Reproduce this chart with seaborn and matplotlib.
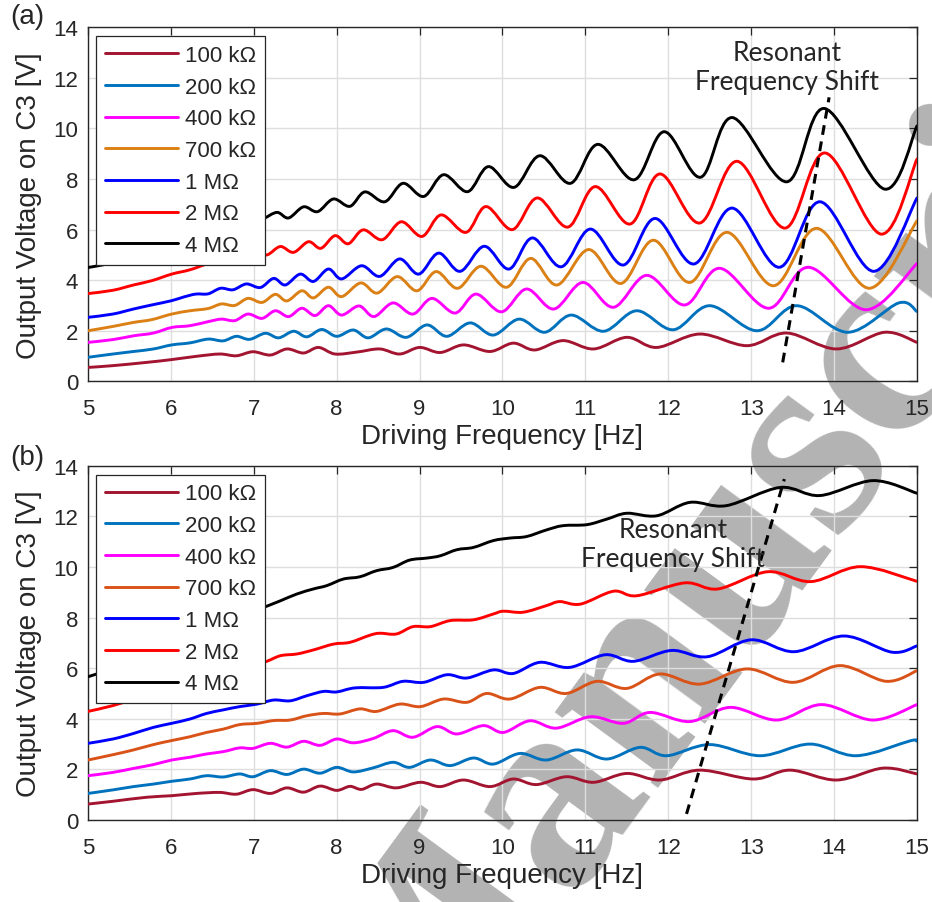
import numpy as np
import matplotlib
matplotlib.use("Agg")
import matplotlib.pyplot as plt
import seaborn as sns
from matplotlib.path import Path
from matplotlib.patches import PathPatch
from matplotlib.lines import Line2D

sns.set_theme(style="white")
plt.rcParams["font.family"] = ["Liberation Sans", "DejaVu Sans"]

LOAD_LABELS = ["100 kΩ", "200 kΩ", "400 kΩ", "700 kΩ", "1 MΩ", "2 MΩ", "4 MΩ"]
COLORS_A = ["#A2142F", "#0072BD", "#FF00FF", "#DB8014", "#0000FF", "#FF0000", "#000000"]
COLORS_B = ["#A2142F", "#0072BD", "#FF00FF", "#D95319", "#0000FF", "#FF0000", "#000000"]
X_TICKS = list(range(5, 16))
Y_TICKS = list(range(0, 15, 2))

# ---- panel (a): response extrema (driving frequency [Hz], voltage [V]) ----
A_100K_F = [5.00, 5.30, 5.71, 6.01, 6.31, 6.59, 6.79, 6.99, 7.20, 7.40, 7.60, 7.78, 7.98, 8.25,
            8.52, 8.76, 9.00, 9.25, 9.53, 9.85, 10.13, 10.39, 10.73, 11.10, 11.50, 11.86, 12.38, 12.95,
            13.43, 14.03, 14.61, 15.00]
A_100K_V = [0.55, 0.62, 0.75, 0.86, 0.99, 1.08, 1.01, 1.17, 1.04, 1.28, 1.12, 1.34, 1.08, 1.16,
            1.28, 1.08, 1.34, 1.14, 1.44, 1.18, 1.51, 1.24, 1.61, 1.28, 1.74, 1.34, 1.87, 1.41,
            1.91, 1.28, 1.94, 1.54]

A_200K_F = [5.00, 5.30, 5.55, 5.79, 6.01, 6.23, 6.45, 6.63, 6.79, 6.95, 7.14, 7.30, 7.48, 7.64, 7.82,
            8.00, 8.20, 8.38, 8.60, 8.84, 9.09, 9.33, 9.61, 9.89, 10.20, 10.51, 10.83, 11.22, 11.62,
            12.06, 12.50, 13.07, 13.55, 14.17, 14.78, 15.00]
A_200K_V = [0.95, 1.08, 1.18, 1.28, 1.44, 1.52, 1.67, 1.60, 1.78, 1.66, 1.90, 1.72, 1.98, 1.76, 2.05,
            1.78, 2.03, 1.72, 2.07, 1.74, 2.23, 1.78, 2.31, 1.83, 2.46, 1.94, 2.62, 1.98, 2.79,
            2.04, 2.99, 2.00, 2.99, 1.94, 3.10, 2.76]

A_400K_F = [5.00, 5.30, 5.55, 5.79, 6.01, 6.23, 6.45, 6.61, 6.77, 6.93, 7.10, 7.26, 7.42, 7.58, 7.74,
            7.90, 8.06, 8.27, 8.45, 8.68, 8.92, 9.15, 9.43, 9.68, 9.99, 10.29, 10.62, 10.97, 11.34,
            11.74, 12.20, 12.62, 13.21, 13.69, 14.39, 15.00]
A_400K_V = [1.54, 1.65, 1.80, 1.91, 2.13, 2.20, 2.36, 2.46, 2.40, 2.66, 2.49, 2.79, 2.56, 2.89, 2.60,
            2.99, 2.62, 2.98, 2.56, 3.10, 2.66, 3.28, 2.70, 3.45, 2.75, 3.65, 2.86, 3.91, 2.93,
            4.19, 3.02, 4.47, 2.89, 4.51, 2.83, 4.66]

A_700K_F = [5.00, 5.30, 5.55, 5.77, 6.01, 6.23, 6.45, 6.61, 6.77, 6.93, 7.10, 7.26, 7.40, 7.58, 7.72,
            7.90, 8.06, 8.29, 8.49, 8.73, 8.97, 9.20, 9.46, 9.74, 10.05, 10.34, 10.66, 11.04, 11.43,
            11.82, 12.26, 12.71, 13.27, 13.79, 14.43, 15.00]
A_700K_V = [2.00, 2.17, 2.33, 2.44, 2.66, 2.79, 2.88, 3.06, 3.00, 3.28, 3.12, 3.44, 3.18, 3.58, 3.30,
            3.72, 3.35, 3.89, 3.49, 4.14, 3.58, 4.34, 3.68, 4.55, 3.72, 4.86, 3.81, 5.21, 3.87,
            5.58, 3.91, 5.89, 3.78, 6.05, 3.68, 6.35]

A_1M_F = [5.00, 5.30, 5.55, 5.77, 6.01, 6.15, 6.30, 6.45, 6.60, 6.75, 6.91, 7.08, 7.24, 7.38, 7.56,
          7.72, 7.90, 8.06, 8.30, 8.52, 8.76, 8.99, 9.23, 9.49, 9.78, 10.08, 10.36, 10.71, 11.06,
          11.46, 11.84, 12.31, 12.77, 13.34, 13.83, 14.48, 15.00]
A_1M_V = [2.53, 2.66, 2.86, 3.02, 3.19, 3.33, 3.45, 3.46, 3.68, 3.62, 3.85, 3.71, 4.07, 3.81, 4.24,
          3.95, 4.44, 4.05, 4.57, 4.15, 4.84, 4.24, 5.07, 4.35, 5.34, 4.44, 5.67, 4.53, 6.02,
          4.60, 6.44, 4.64, 6.85, 4.51, 7.10, 4.35, 7.25]

A_2M_F = [5.00, 5.30, 5.55, 5.77, 6.01, 6.23, 6.45, 6.67, 6.84, 7.00, 7.16, 7.32, 7.48, 7.66, 7.81,
          7.98, 8.14, 8.32, 8.55, 8.78, 9.03, 9.26, 9.56, 9.80, 10.12, 10.42, 10.79, 11.12, 11.54,
          11.90, 12.38, 12.83, 13.41, 13.89, 14.57, 15.00]
A_2M_V = [3.47, 3.60, 3.81, 3.98, 4.24, 4.41, 4.66, 4.86, 4.84, 5.07, 5.00, 5.33, 5.10, 5.52, 5.26,
          5.76, 5.44, 5.99, 5.60, 6.31, 5.73, 6.58, 5.89, 6.91, 6.00, 7.25, 6.10, 7.70, 6.22,
          8.20, 6.26, 8.70, 6.06, 9.03, 5.82, 8.79]

A_4M_F = [5.00, 5.25, 5.50, 5.75, 6.00, 6.25, 6.50, 6.75, 6.95, 7.11, 7.28, 7.42, 7.60, 7.77, 7.96,
          8.16, 8.34, 8.58, 8.80, 9.05, 9.29, 9.58, 9.83, 10.14, 10.45, 10.82, 11.15, 11.59, 11.95,
          12.39, 12.77, 13.43, 13.88, 14.61, 15.00]
A_4M_V = [4.50, 4.65, 4.85, 5.05, 5.30, 5.55, 5.80, 6.05, 6.25, 6.42, 6.68, 6.46, 6.90, 6.71, 7.21,
          6.92, 7.49, 7.10, 7.83, 7.31, 8.17, 7.50, 8.49, 7.67, 8.92, 7.83, 9.37, 7.97, 9.87,
          8.07, 10.43, 7.89, 10.79, 7.60, 10.10]

# ---- panel (b) ----
B_100K_F = [5.00, 5.30, 5.71, 6.01, 6.31, 6.59, 6.79, 6.99, 7.20, 7.40, 7.60, 7.80, 8.00, 8.16, 8.30,
            8.48, 8.72, 9.01, 9.25, 9.53, 9.85, 10.13, 10.41, 10.77, 11.10, 11.50, 11.90, 12.38,
            13.03, 13.47, 14.03, 14.59, 15.00]
B_100K_V = [0.63, 0.74, 0.90, 0.96, 1.05, 1.09, 1.02, 1.20, 1.05, 1.27, 1.10, 1.34, 1.17, 1.33, 1.21,
            1.42, 1.27, 1.49, 1.32, 1.58, 1.32, 1.62, 1.40, 1.71, 1.49, 1.84, 1.58, 1.97,
            1.62, 1.97, 1.58, 2.05, 1.82]

B_200K_F = [5.00, 5.30, 5.55, 5.79, 6.01, 6.23, 6.43, 6.63, 6.83, 6.99, 7.20, 7.40, 7.60, 7.80, 8.00,
            8.20, 8.44, 8.68, 8.88, 9.13, 9.37, 9.65, 9.89, 10.21, 10.53, 10.90, 11.26, 11.66,
            11.98, 12.50, 13.11, 13.71, 14.27, 14.92, 15.00]
B_200K_V = [1.05, 1.19, 1.32, 1.42, 1.53, 1.62, 1.75, 1.70, 1.82, 1.71, 1.95, 1.80, 2.01, 1.85, 2.08,
            1.90, 2.06, 2.28, 2.08, 2.37, 2.15, 2.45, 2.21, 2.63, 2.37, 2.77, 2.41, 2.87,
            2.54, 2.98, 2.54, 3.00, 2.54, 3.13, 3.11]

B_400K_F = [5.00, 5.30, 5.55, 5.79, 6.01, 6.23, 6.43, 6.63, 6.83, 6.99, 7.20, 7.40, 7.60, 7.80, 8.00,
            8.20, 8.44, 8.68, 8.92, 9.21, 9.45, 9.77, 10.01, 10.33, 10.65, 11.06, 11.46, 11.78,
            12.26, 12.75, 13.31, 13.85, 14.47, 15.00]
B_400K_V = [1.75, 1.88, 2.04, 2.19, 2.37, 2.48, 2.61, 2.70, 2.85, 2.83, 3.03, 2.88, 3.11, 2.95, 3.20,
            3.05, 3.22, 3.53, 3.27, 3.69, 3.40, 3.73, 3.46, 3.92, 3.63, 4.08, 3.82, 4.25,
            3.89, 4.45, 3.95, 4.56, 3.95, 4.56]

B_700K_F = [5.00, 5.30, 5.55, 5.79, 6.01, 6.23, 6.43, 6.63, 6.83, 7.04, 7.24, 7.44, 7.64, 7.84, 8.04,
            8.28, 8.48, 8.76, 9.01, 9.29, 9.57, 9.81, 10.09, 10.45, 10.77, 11.14, 11.50, 11.90,
            12.38, 12.95, 13.51, 14.07, 14.63, 15.00]
B_700K_V = [2.37, 2.58, 2.77, 2.98, 3.14, 3.29, 3.46, 3.59, 3.77, 3.82, 3.93, 3.95, 4.12, 4.21, 4.19,
            4.39, 4.29, 4.58, 4.48, 4.78, 4.65, 5.00, 4.78, 5.24, 5.00, 5.48, 5.20, 5.77,
            5.37, 5.97, 5.44, 6.10, 5.48, 5.90]

B_1M_F = [5.00, 5.30, 5.55, 5.79, 6.01, 6.23, 6.43, 6.63, 6.83, 7.04, 7.24, 7.44, 7.64, 7.84, 8.00,
          8.22, 8.56, 8.80, 9.05, 9.33, 9.57, 9.89, 10.13, 10.45, 10.81, 11.24, 11.58, 12.04,
          12.47, 13.00, 13.52, 14.12, 14.70, 15.00]
B_1M_V = [3.03, 3.20, 3.42, 3.66, 3.82, 3.99, 4.21, 4.35, 4.48, 4.58, 4.74, 4.71, 4.91, 5.08, 5.06,
          5.22, 5.24, 5.48, 5.44, 5.74, 5.61, 5.93, 5.79, 6.23, 6.03, 6.53, 6.27, 6.70,
          6.45, 7.12, 6.65, 7.27, 6.63, 6.88]

B_2M_F = [5.00, 5.30, 5.55, 5.75, 6.10, 6.50, 6.80, 7.12, 7.32, 7.52, 7.72, 7.96, 8.16, 8.40, 8.52,
          8.72, 8.92, 9.13, 9.37, 9.65, 9.89, 10.01, 10.25, 10.53, 10.69, 10.94, 11.34, 11.62,
          12.20, 12.60, 13.20, 13.72, 14.32, 15.00]
B_2M_V = [4.29, 4.52, 4.78, 5.00, 5.40, 5.78, 6.00, 6.23, 6.49, 6.56, 6.72, 6.95, 7.02, 7.30, 7.38,
          7.35, 7.64, 7.64, 7.88, 7.91, 8.14, 8.25, 8.21, 8.47, 8.63, 8.53, 9.04, 8.86,
          9.37, 9.13, 9.81, 9.42, 10.01, 9.43]

B_4M_F = [5.00, 5.50, 6.00, 6.50, 7.12, 7.32, 7.52, 7.72, 7.88, 8.08, 8.28, 8.48, 8.68, 8.88, 9.09,
          9.25, 9.45, 9.65, 9.89, 10.09, 10.29, 10.53, 10.73, 11.02, 11.26, 11.50, 11.86, 12.26,
          12.70, 13.35, 13.83, 14.47, 15.00]
B_4M_V = [5.66, 6.20, 6.90, 7.60, 8.40, 8.66, 8.93, 9.13, 9.26, 9.52, 9.61, 9.85, 9.98, 10.27, 10.35,
          10.44, 10.68, 10.77, 11.04, 11.14, 11.20, 11.46, 11.63, 11.67, 11.89, 12.12, 12.02, 12.55,
          12.42, 13.14, 12.82, 13.41, 12.91]

# resonance-peak shift guides
SHIFT_A_F = [13.38, 13.94]
SHIFT_A_V = [0.75, 11.23]
SHIFT_B_F = [12.22, 13.40]
SHIFT_B_V = [0.24, 13.47]

PANEL_A = [(A_100K_F, A_100K_V), (A_200K_F, A_200K_V), (A_400K_F, A_400K_V), (A_700K_F, A_700K_V),
           (A_1M_F, A_1M_V), (A_2M_F, A_2M_V), (A_4M_F, A_4M_V)]
PANEL_B = [(B_100K_F, B_100K_V), (B_200K_F, B_200K_V), (B_400K_F, B_400K_V), (B_700K_F, B_700K_V),
           (B_1M_F, B_1M_V), (B_2M_F, B_2M_V), (B_4M_F, B_4M_V)]


def draw_trace(ax, f, v, color):
    """Smooth curve through the measured extrema (Catmull-Rom as cubic Beziers)."""
    pts = np.column_stack([f, v]).astype(float)
    ext = np.vstack([pts[0], pts, pts[-1]])
    verts = [pts[0]]
    codes = [Path.MOVETO]
    for i in range(1, len(ext) - 2):
        p0, p1, p2, p3 = ext[i - 1], ext[i], ext[i + 1], ext[i + 2]
        verts += [p1 + (p2 - p0) / 6.0, p2 - (p3 - p1) / 6.0, p2]
        codes += [Path.CURVE4] * 3
    patch = PathPatch(Path(verts, codes), facecolor="none", edgecolor=color,
                      lw=2.1, capstyle="round", joinstyle="round", zorder=3)
    ax.add_patch(patch)


def style_axes(ax):
    ax.set_facecolor("none")
    ax.set_xlim(5, 15)
    ax.set_ylim(0, 14)
    ax.set_xticks(X_TICKS)
    ax.set_yticks(Y_TICKS)
    ax.grid(True, color="#dedede", lw=1.0)
    ax.set_axisbelow(True)
    ax.tick_params(direction="in", length=6, width=0.9, top=True, right=True,
                   labelsize=16, colors="#262626")
    ax.tick_params(axis="x", pad=12)
    ax.tick_params(axis="y", pad=7)
    for sp in ax.spines.values():
        sp.set_color("#262626")
        sp.set_linewidth(1.0)
        sp.set_visible(True)
    ax.set_xlabel("Driving Frequency [Hz]", fontsize=20, color="#262626", labelpad=3)
    ax.set_ylabel("Output Voltage on C3 [V]", fontsize=20, color="#262626", labelpad=8)


fig = plt.figure(figsize=(9.32, 9.03), dpi=100)
ax_a = fig.add_axes([0.0944, 0.5766, 0.8895, 0.3921])
ax_b = fig.add_axes([0.0944, 0.0908, 0.8895, 0.3924])

for ax, series, colors, shift_f, shift_v, txt_xy in [
        (ax_a, PANEL_A, COLORS_A, SHIFT_A_F, SHIFT_A_V, (13.43, 12.41)),
        (ax_b, PANEL_B, COLORS_B, SHIFT_B_F, SHIFT_B_V, (12.06, 10.92))]:
    style_axes(ax)
    for (f, v), c in zip(series, colors):
        draw_trace(ax, f, v, c)
    sns.lineplot(x=shift_f, y=shift_v, ax=ax, color="black", lw=2.2,
                 linestyle=(0, (3.2, 2.2)), zorder=4)
    ax.text(*txt_xy, "Resonant\nFrequency Shift", ha="center", va="center",
            fontsize=19, family=["Lato", "DejaVu Sans"], linespacing=1.2, zorder=5)
    handles = [Line2D([0], [0], color=c, lw=2.1) for c in colors]
    leg = ax.legend(handles, LOAD_LABELS, loc="upper left", bbox_to_anchor=(0.0097, 0.975),
                    borderaxespad=0, fontsize=16, frameon=True, fancybox=False,
                    framealpha=1, edgecolor="#262626", handlelength=3.3,
                    handletextpad=0.3, labelspacing=0.48, borderpad=0.4)
    leg.get_frame().set_linewidth(0.9)
    leg.set_zorder(6)

fig.text(0.029, 0.981, "(a)", fontsize=20, ha="center", va="center", color="#262626")
fig.text(0.029, 0.493, "(b)", fontsize=20, ha="center", va="center", color="#262626")

# faint diagonal watermark behind the plotting areas
fig.text(0.445, -0.232, "Manuscript", rotation=53.8, rotation_mode="anchor",
         ha="left", va="baseline", fontsize=200, color="#b3b3b3",
         family=["Liberation Serif", "DejaVu Serif"], weight="bold", zorder=-5)

fig.savefig("out.png", dpi=100)
